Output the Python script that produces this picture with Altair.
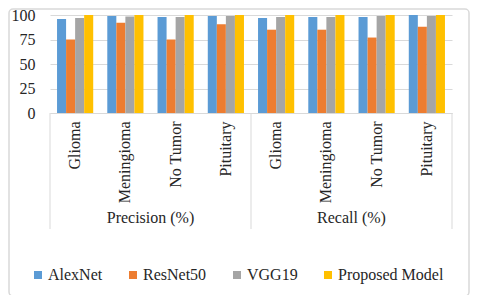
import altair as alt
import pandas as pd

metrics = ["Precision (%)", "Recall (%)"]
classes = ["Glioma", "Meningioma", "No Tumor", "Pituitary"]
models = ["AlexNet", "ResNet50", "VGG19", "Proposed Model"]
colors = ["#5B9BD5", "#ED7D31", "#A5A5A5", "#FFC000"]

# values per model, order: Precision(Glioma, Meningioma, No Tumor, Pituitary), Recall(...)
alexnet = [96, 99, 98, 99, 97, 98, 98, 100]
resnet50 = [75, 92, 75, 90.5, 85, 85, 77, 88]
vgg19 = [97, 98.5, 98, 99, 98, 98, 99, 99]
proposed = [100, 100, 100, 100, 100, 100, 100, 100]
series = [alexnet, resnet50, vgg19, proposed]

keys = [f"{m}|{c}" for m in metrics for c in classes]
rows = []
for model, vals in zip(models, series):
    for k, v in zip(keys, vals):
        rows.append({"key": k, "model": model, "value": v})
df = pd.DataFrame(rows)

W, H = 402, 98
FONT = "Liberation Serif"
TXT = "#262626"

bars = alt.Chart(df).mark_bar().encode(
    x=alt.X("key:N", sort=keys,
            scale=alt.Scale(paddingInner=0.28, paddingOuter=0.14),
            axis=alt.Axis(title=None, labelAngle=-90, labelFont=FONT, labelFontSize=16,
                          labelColor=TXT, labelPadding=8, ticks=False,
                          domainColor="#d9d9d9",
                          labelExpr="split(datum.label, '|')[1]")),
    xOffset=alt.XOffset("model:N", sort=models, scale=alt.Scale(paddingInner=0, paddingOuter=0)),
    y=alt.Y("value:Q", scale=alt.Scale(domain=[0, 100]),
            axis=alt.Axis(title=None, values=[0, 25, 50, 75, 100], domain=False, ticks=False,
                          gridColor="#d9d9d9", labelFont=FONT, labelFontSize=16,
                          labelColor=TXT, labelPadding=15)),
    color=alt.Color("model:N", sort=models,
                    scale=alt.Scale(domain=models, range=colors),
                    legend=alt.Legend(title=None, orient="none", legendX=-20, legendY=252,
                                      direction="horizontal", columns=4,
                                      symbolType="square", symbolSize=64, symbolStrokeWidth=0,
                                      labelFont=FONT, labelFontSize=16, labelColor=TXT,
                                      labelOffset=2, columnPadding=22)),
)

groups = pd.DataFrame({"metric": metrics, "pos": [W / 4, 3 * W / 4]})
group_text = alt.Chart(groups).mark_text(font=FONT, fontSize=16, color=TXT, baseline="middle").encode(
    x=alt.X("pos:Q", scale=None),
    y=alt.value(H + 105),
    text="metric:N",
)

seps = pd.DataFrame({"pos": [0, W / 2, W]})
sep_rules = alt.Chart(seps).mark_rule(color="#d9d9d9", strokeWidth=1).encode(
    x=alt.X("pos:Q", scale=None),
    y=alt.value(H),
    y2=alt.value(H + 116),
)

frame = alt.Chart(pd.DataFrame({"a": [0]})).mark_rect(
    fillOpacity=0, stroke="#d9d9d9", strokeWidth=1.5, cornerRadius=4
).encode(
    x=alt.value(-41), x2=alt.value(419), y=alt.value(-6), y2=alt.value(281)
)

chart = alt.layer(frame, bars, sep_rules, group_text).properties(
    width=W, height=H,
    autosize=alt.AutoSizeParams(type="none"),
    padding={"left": 42, "top": 7, "right": 20, "bottom": 182},
).configure_view(stroke=None)

chart.save("out.html", embed_options={"renderer": "svg", "actions": False})
